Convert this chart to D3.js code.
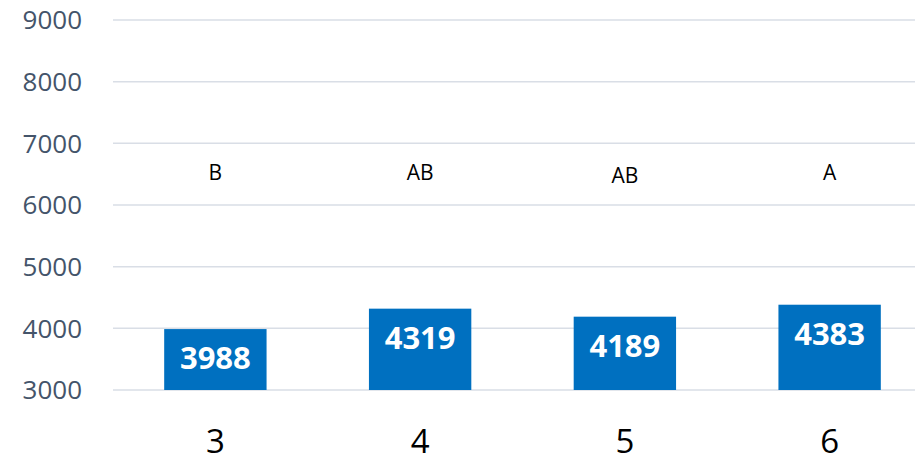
<!DOCTYPE html>
<meta charset="utf-8">
<style>
  body { margin: 0; background: #fff; }
  svg { display: block; }
</style>
<svg id="chart" width="915" height="463"></svg>
<script src="https://cdn.jsdelivr.net/npm/d3@7"></script>
<script>

var categories = ["3", "4", "5", "6"];
var values = [3988, 4319, 4189, 4383];
var letters = ["B", "AB", "AB", "A"];
var letterOffset = [0, 0, 3, 0]; // the 5's "AB" sits a bit lower
var yTicks = [3000, 4000, 5000, 6000, 7000, 8000, 9000];

var svg = d3.select("#chart");

var x = d3.scaleBand()
    .domain(categories)
    .range([113, 932])
    .paddingInner(0.5)
    .paddingOuter(0.25);

var y = d3.scaleLinear()
    .domain([3000, 9000])
    .range([390, 20]);

// gridlines
svg.append("g")
  .selectAll("line")
  .data(yTicks)
  .enter().append("line")
    .attr("x1", 113)
    .attr("x2", 915)
    .attr("y1", function(d) { return y(d); })
    .attr("y2", function(d) { return y(d); })
    .attr("stroke", "#d9dee6")
    .attr("stroke-width", 1.5);

// y tick labels
svg.append("g")
  .selectAll("text")
  .data(yTicks)
  .enter().append("text")
    .attr("x", 82)
    .attr("y", function(d) { return y(d); })
    .attr("dy", "0.36em")
    .attr("text-anchor", "end")
    .attr("font-family", "Open Sans, sans-serif")
    .attr("font-size", 26)
    .attr("fill", "#44546a")
    .text(function(d) { return d; });

// bars
svg.append("g")
  .selectAll("rect")
  .data(values)
  .enter().append("rect")
    .attr("x", function(d, i) { return x(categories[i]); })
    .attr("width", x.bandwidth())
    .attr("y", function(d) { return y(d); })
    .attr("height", function(d) { return y(3000) - y(d); })
    .attr("fill", "#0070c0");

// value labels
svg.append("g")
  .selectAll("text")
  .data(values)
  .enter().append("text")
    .attr("x", function(d, i) { return x(categories[i]) + x.bandwidth() / 2; })
    .attr("y", function(d) { return y(d) + 40; })
    .attr("text-anchor", "middle")
    .attr("font-family", "Open Sans, sans-serif")
    .attr("font-weight", "bold")
    .attr("font-size", 31)
    .attr("fill", "#fff")
    .text(function(d) { return d; });

// significance letters
svg.append("g")
  .selectAll("text")
  .data(letters)
  .enter().append("text")
    .attr("x", function(d, i) { return x(categories[i]) + x.bandwidth() / 2; })
    .attr("y", function(d, i) { return 180 + letterOffset[i]; })
    .attr("text-anchor", "middle")
    .attr("font-family", "Open Sans, sans-serif")
    .attr("font-size", 21)
    .attr("fill", "#000")
    .text(function(d) { return d; });

// x axis labels
svg.append("g")
  .selectAll("text")
  .data(categories)
  .enter().append("text")
    .attr("x", function(d) { return x(d) + x.bandwidth() / 2; })
    .attr("y", 453)
    .attr("text-anchor", "middle")
    .attr("font-family", "Open Sans, sans-serif")
    .attr("font-size", 33)
    .attr("fill", "#000")
    .text(function(d) { return d; });

</script>
